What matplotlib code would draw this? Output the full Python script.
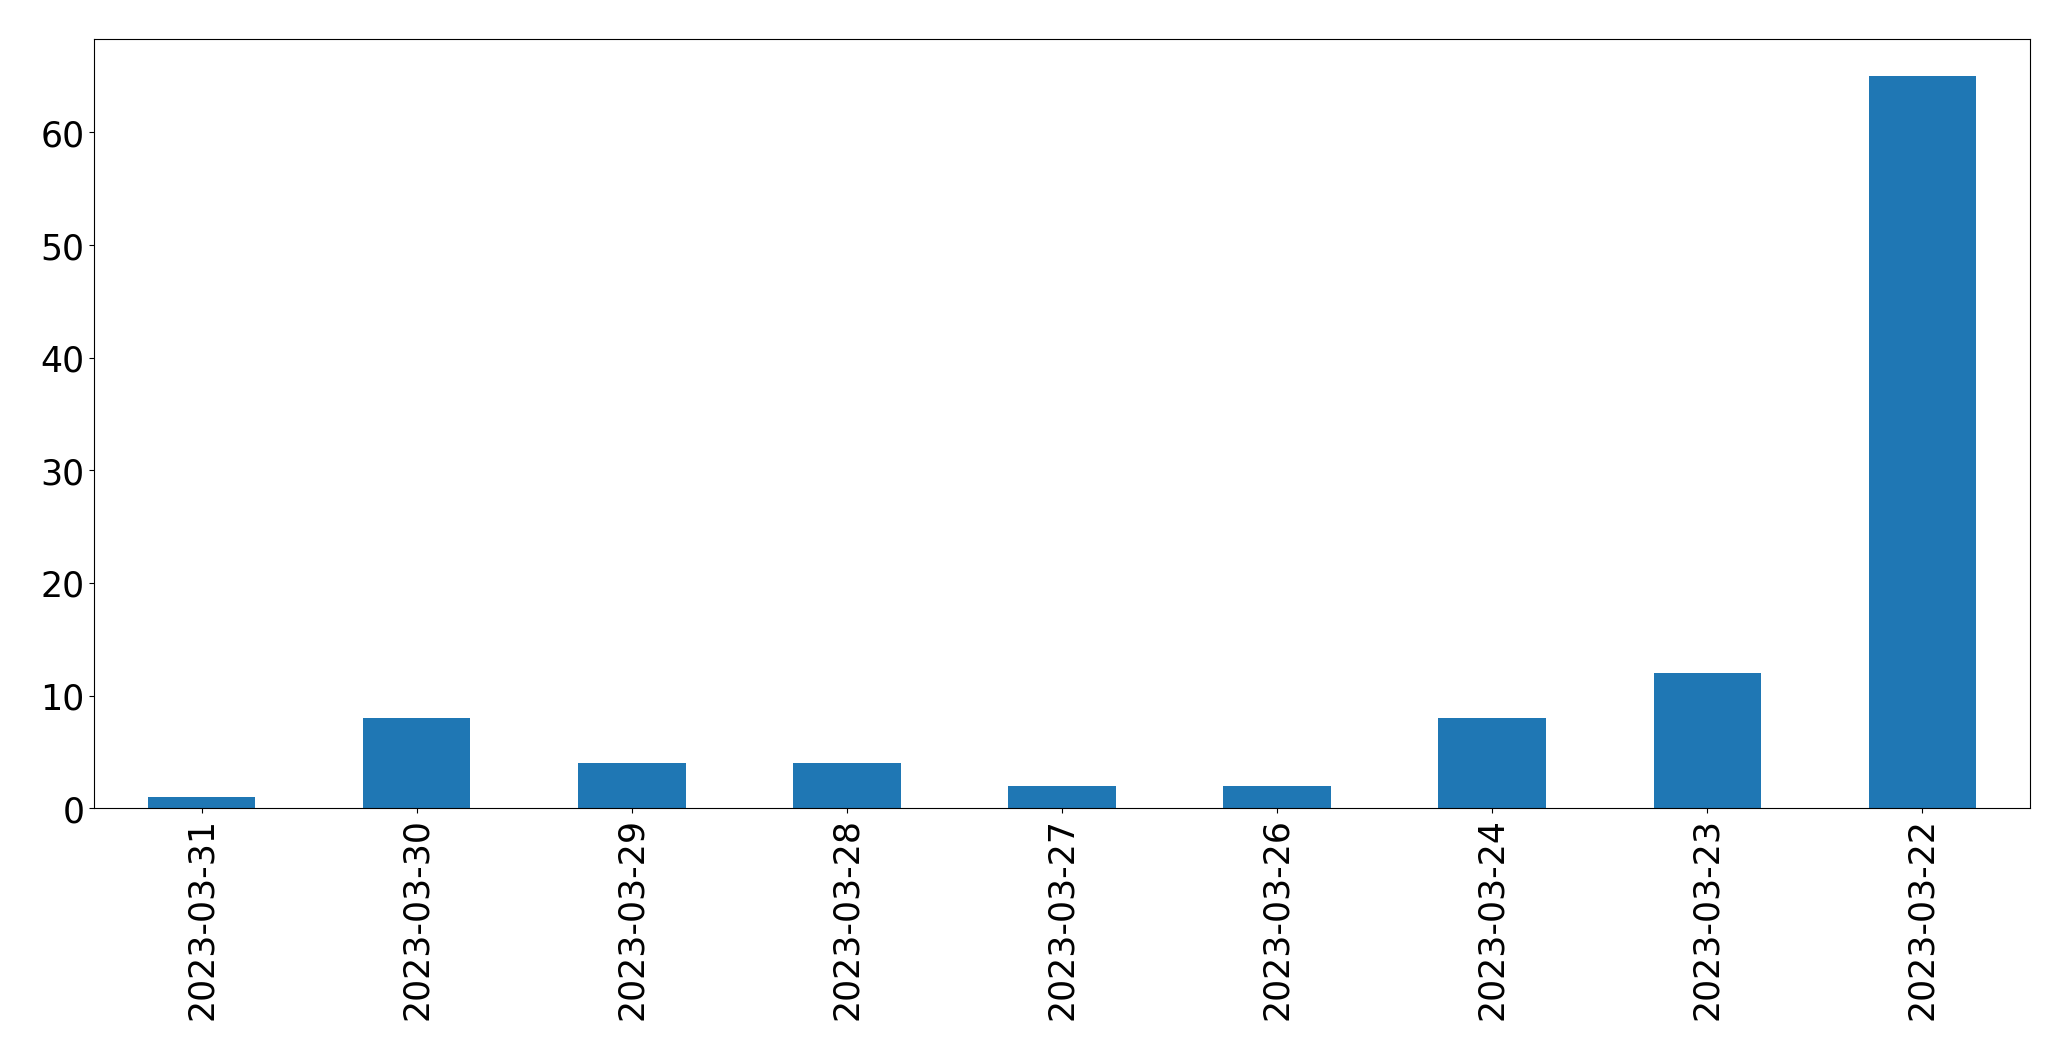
import matplotlib
matplotlib.use('Agg')
import matplotlib.pyplot as plt
import pandas as pd

dates = ['2023-03-31', '2023-03-30', '2023-03-29', '2023-03-28', '2023-03-27',
         '2023-03-26', '2023-03-24', '2023-03-23', '2023-03-22']
counts = [1, 8, 4, 4, 2, 2, 8, 12, 65]

s = pd.Series(counts, index=dates)

fig = plt.figure(figsize=(20.71, 10.605), dpi=100)
ax = fig.add_subplot(111)
s.plot(kind='bar', ax=ax, fontsize=25)
plt.subplots_adjust(left=0.0454, right=0.9802, top=0.9623, bottom=0.2375)
plt.savefig('out.png', dpi=100)
